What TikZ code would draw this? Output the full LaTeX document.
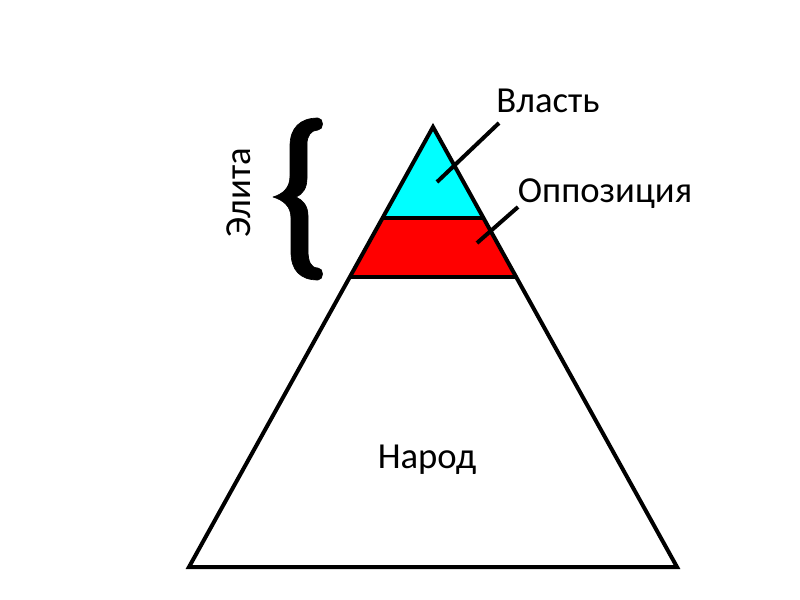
\documentclass[tikz,border=0pt]{standalone}
\usepackage{fontspec}
\setmainfont{Carlito}
\usetikzlibrary{positioning, calc}
\definecolor{Ciano}{RGB}{0, 255, 255}
\definecolor{Rosso}{RGB}{255, 0, 0}
\tikzset{
    etichetta/.style = {anchor=base, inner sep=0pt, font=\fontsize{27.5}{32}\selectfont},
    bordo/.style = {draw=black, line width=3pt, line join=miter},
    linea/.style = {draw=black, line width=3pt}
}
\begin{document}
\begin{tikzpicture}[
        x=0.75pt, y=-0.75pt,
        graffa/.style = {fill=black, draw=black, line width=0.5pt, line join=round}
    ]
    \useasboundingbox (0,0) rectangle (800,600);

    % vertici della piramide
    \coordinate (apice) at (433,127);
    \coordinate (baseS) at (189,567);
    \coordinate (baseD) at (677,567);
    \coordinate (l1S) at ($(apice)!0.207!(baseS)$);
    \coordinate (l1D) at ($(apice)!0.207!(baseD)$);
    \coordinate (l2S) at ($(apice)!0.341!(baseS)$);
    \coordinate (l2D) at ($(apice)!0.341!(baseD)$);

    \fill[Ciano] (apice) -- (l1S) -- (l1D) -- cycle;
    \fill[Rosso] (l1S) -- (l2S) -- (l2D) -- (l1D) -- cycle;
    \draw[bordo] (l1S) -- (l1D);
    \draw[bordo] (l2S) -- (l2D);
    \draw[bordo] (apice) -- (baseS) -- (baseD) -- cycle;

    % etichette
    \node[etichetta] (potere) at (548,112) {Власть};
    \node[etichetta] (opposizione) at (605,202) {Оппозиция};
    \node[etichetta] (popolo) at (427,468) {Народ};
    \node[etichetta, rotate=90] (elite) at (250,193) {Элита};

    \coordinate (p1) at (437,182);
    \coordinate (p2) at (499,123);
    \coordinate (o1) at (477,243);
    \coordinate (o2) at (518,207);
    \draw[linea] (p1) -- (p2);
    \draw[linea] (o1) -- (o2);

    % graffa
    \coordinate (gA) at (318,118);
    \coordinate (gB) at (273,197);
    \coordinate (gC) at (318,280);
    \path[graffa] (gA) .. controls (300,118) and (290,128) .. (290,146)
        -- (290,176) .. controls (290,188) and (283,194) .. (gB)
        .. controls (283,200) and (291,206) .. (291,218)
        -- (291,252) .. controls (291,270) and (300,280) .. (gC)
        .. controls (324,280) and (324,268) .. (318,268)
        .. controls (311,268) and (308,262) .. (308,250)
        -- (308,216) .. controls (308,206) and (303,200) .. (296,197)
        .. controls (303,194) and (307,188) .. (307,178)
        -- (307,144) .. controls (307,136) and (311,130) .. (318,130)
        .. controls (324,130) and (324,118) .. (gA) -- cycle;
\end{tikzpicture}
\end{document}
